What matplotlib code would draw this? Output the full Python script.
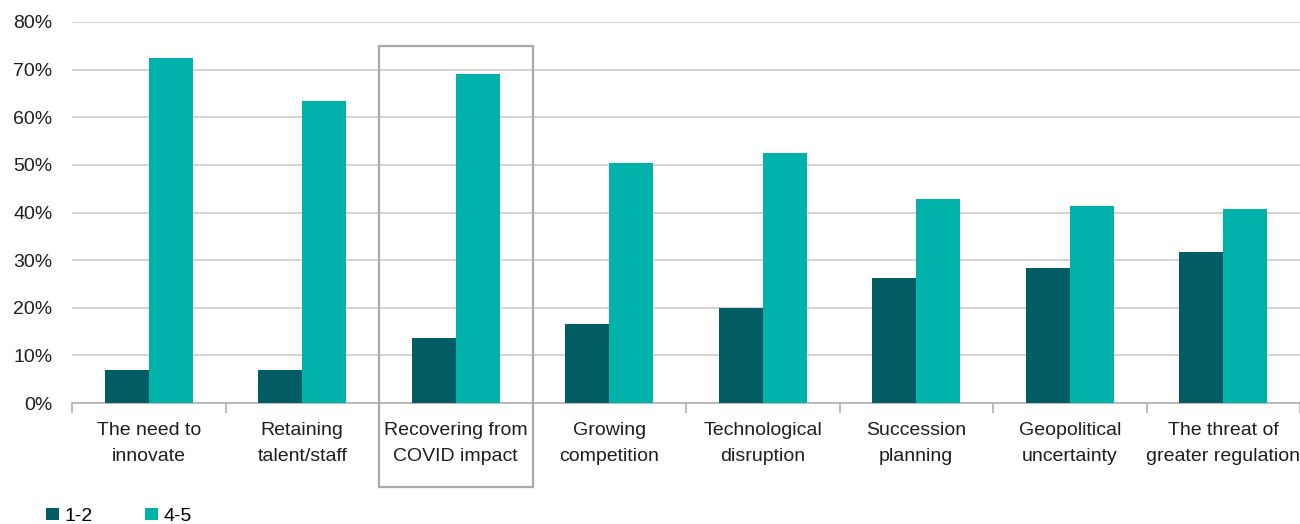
import numpy as np
import matplotlib.pyplot as plt
from matplotlib.patches import Rectangle

plt.rcParams['font.family'] = ['Liberation Sans', 'DejaVu Sans']

categories = ["The need to\ninnovate", "Retaining\ntalent/staff", "Recovering from\nCOVID impact",
              "Growing\ncompetition", "Technological\ndisruption", "Succession\nplanning",
              "Geopolitical\nuncertainty", "The threat of\ngreater regulation"]
low_scores = [6.9, 6.9, 13.7, 16.6, 20.0, 26.3, 28.4, 31.7]
high_scores = [72.5, 63.4, 69.1, 50.4, 52.5, 42.9, 41.4, 40.8]
series_names = ["1-2", "4-5"]

dark = "#025c64"
teal = "#00b2aa"
txt = "#1e1e1e"

fig = plt.figure(figsize=(13, 5.24), dpi=100)
ax = fig.add_axes([72/1300, 1 - 403/524, 1 - 72/1300, (403 - 22)/524])

x = np.arange(len(categories))
w = 0.287
b1 = ax.bar(x - w/2, low_scores, w, color=dark, label=series_names[0], zorder=3)
b2 = ax.bar(x + w/2, high_scores, w, color=teal, label=series_names[1], zorder=3)

ax.set_xlim(-0.5, len(categories) - 0.5)
ax.set_ylim(0, 80)
ax.set_yticks(range(0, 81, 10))
ax.set_yticklabels([f"{v}%" for v in range(0, 81, 10)], fontsize=14, color=txt)
ax.yaxis.grid(True, color="#c8c8c8", linewidth=1.1, zorder=0)
ax.tick_params(axis='y', length=0, pad=14)

# category labels sit between the boundary ticks
ax.set_xticks(np.arange(-0.5, len(categories)), minor=False)
ax.set_xticklabels([])
ax.tick_params(axis='x', which='major', length=7, color="#b0b0b0", width=1.2)
ax.set_xticks(x, minor=True)
ax.set_xticklabels(categories, minor=True, fontsize=14, color=txt, linespacing=1.68)
ax.tick_params(axis='x', which='minor', length=0, pad=14)

for s in ['top', 'right', 'left']:
    ax.spines[s].set_visible(False)
ax.spines['bottom'].set_color("#b0b0b0")
ax.spines['bottom'].set_linewidth(1.2)

# highlight box around COVID category
box = Rectangle((1.5, -17.6), 1.0, 75.0 + 17.6, fill=False, edgecolor="#aaaaaa",
                linewidth=1.6, clip_on=False, zorder=4)
ax.add_patch(box)

fig.legend(handles=[b1, b2], labels=series_names, loc='lower left', bbox_to_anchor=(0.022, -0.035),
           ncol=2, frameon=False, fontsize=14, handlelength=0.65, handleheight=0.65,
           handletextpad=0.3, columnspacing=2.7)

fig.savefig("out.png", dpi=100)
